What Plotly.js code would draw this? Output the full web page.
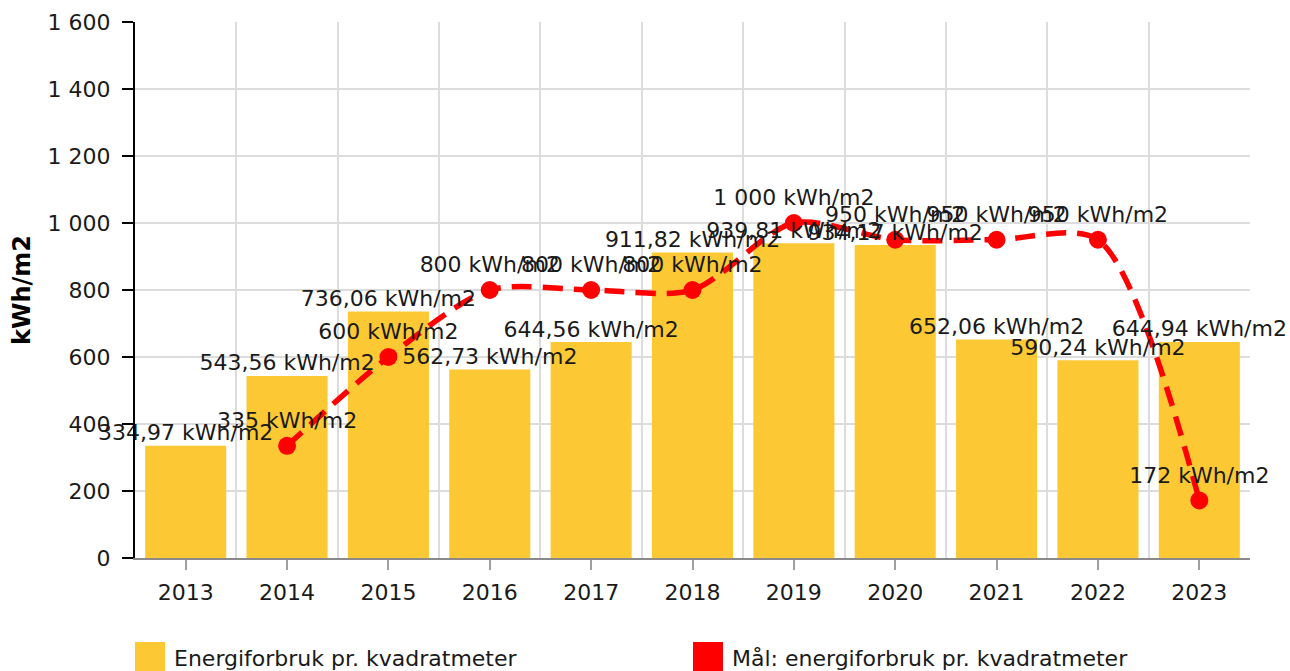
<!DOCTYPE html>
<html>
<head>
<meta charset="utf-8">
<script src="https://cdn.plot.ly/plotly-3.0.1.min.js"></script>
<style>html,body{margin:0;padding:0;background:#fff;}#chart{width:1290px;height:671px;}</style>
</head>
<body>
<div id="chart"></div>
<script>
var years = [2013, 2014, 2015, 2016, 2017, 2018, 2019, 2020, 2021, 2022, 2023];
var consumption = [334.97, 543.56, 736.06, 562.73, 644.56, 911.82, 939.81, 934.17, 652.06, 590.24, 644.94];
var targetYears = [2014, 2015, 2016, 2017, 2018, 2019, 2020, 2021, 2022, 2023];
var targets = [335, 600, 800, 800, 800, 1000, 950, 950, 950, 172];
var seriesNames = ['Energiforbruk pr. kvadratmeter', 'Mål: energiforbruk pr. kvadratmeter'];
var yTickVals = [0, 200, 400, 600, 800, 1000, 1200, 1400, 1600];

var FONT = 'DejaVu Sans, Verdana, sans-serif';
var FS = 22;
var barColor = '#FCC935';
var lineColor = '#FF0000';
var txtColor = '#1a1a1a';

var plotL = 135, plotR = 40, plotT = 22, plotB = 113, W = 1290, H = 671;
var pw = W - plotL - plotR, ph = H - plotT - plotB;
function px2x(p){ return (p - plotL) / pw; }
function py2y(p){ return (H - plotB - p) / ph; }

var traces = [
  {
    type: 'bar', x: years, y: consumption, name: seriesNames[0],
    marker: {color: barColor}, width: 0.8,
    showlegend: false, hoverinfo: 'x+y'
  },
  {
    type: 'scatter', mode: 'lines+markers', x: targetYears, y: targets, name: seriesNames[1],
    line: {color: lineColor, width: 5.5, dash: '20px,11px', shape: 'spline', smoothing: 0.8},
    marker: {color: lineColor, size: 18},
    cliponaxis: false, showlegend: false
  },
  {
    type: 'scatter', mode: 'text', x: years, y: consumption, name: seriesNames[0] + ' (etiketter)',
    texttemplate: '%{y:,.2f} kWh/m2', textposition: 'top center',
    textfont: {family: FONT, size: FS, color: txtColor},
    cliponaxis: false, showlegend: false, hoverinfo: 'skip'
  },
  {
    type: 'scatter', mode: 'markers+text', x: targetYears, y: targets, name: seriesNames[1] + ' (etiketter)',
    marker: {size: 18, opacity: 0},
    texttemplate: '%{y:,} kWh/m2', textposition: 'top center',
    textfont: {family: FONT, size: FS, color: txtColor},
    cliponaxis: false, showlegend: false, hoverinfo: 'skip'
  }
];

var layout = {
  width: W, height: H,
  margin: {l: plotL, r: plotR, t: plotT, b: plotB, pad: 0},
  paper_bgcolor: '#fff', plot_bgcolor: '#fff',
  separators: ', ',
  font: {family: FONT, size: FS, color: txtColor},
  showlegend: false,
  xaxis: {
    range: [2012.5, 2023.5], tickmode: 'array', tickvals: years, ticktext: years.map(String),
    showgrid: false, ticks: 'outside', ticklen: 10, tickcolor: '#a0a0a0', tickwidth: 2,
    ticklabelstandoff: 4,
    showline: true, linecolor: '#8a8a8a', linewidth: 2,
    tickfont: {family: FONT, size: FS, color: txtColor},
    zeroline: false, fixedrange: true,
    minor: {tickmode: 'linear', tick0: 2012.5, dtick: 1, showgrid: true, gridcolor: '#dcdcdc', gridwidth: 1.5, ticks: ''}
  },
  yaxis: {
    range: [0, 1600], tickmode: 'array', tickvals: yTickVals, tickformat: ',',
    showgrid: true, gridcolor: '#dcdcdc', gridwidth: 1.5,
    ticks: 'outside', ticklen: 11, tickcolor: '#000', tickwidth: 2,
    ticklabelstandoff: 7,
    showline: true, linecolor: '#000', linewidth: 2,
    tickfont: {family: FONT, size: FS, color: txtColor},
    zeroline: false, fixedrange: true,
    title: {text: 'kWh/m2', font: {family: FONT, size: 24, color: '#000', weight: 'bold'}, standoff: 10}
  },
  shapes: [
    {type: 'rect', xref: 'paper', yref: 'paper', x0: px2x(135), x1: px2x(165), y0: py2y(642), y1: py2y(672), fillcolor: barColor, line: {width: 0}},
    {type: 'rect', xref: 'paper', yref: 'paper', x0: px2x(693), x1: px2x(723), y0: py2y(642), y1: py2y(672), fillcolor: lineColor, line: {width: 0}}
  ],
  annotations: [
    {xref: 'paper', yref: 'paper', x: px2x(172), y: py2y(658), xanchor: 'left', yanchor: 'middle', showarrow: false, text: seriesNames[0], font: {family: FONT, size: FS, color: txtColor}},
    {xref: 'paper', yref: 'paper', x: px2x(730), y: py2y(658), xanchor: 'left', yanchor: 'middle', showarrow: false, text: seriesNames[1], font: {family: FONT, size: FS, color: txtColor}}
  ]
};

Plotly.newPlot('chart', traces, layout, {displayModeBar: false, responsive: false});
</script>
</body>
</html>
